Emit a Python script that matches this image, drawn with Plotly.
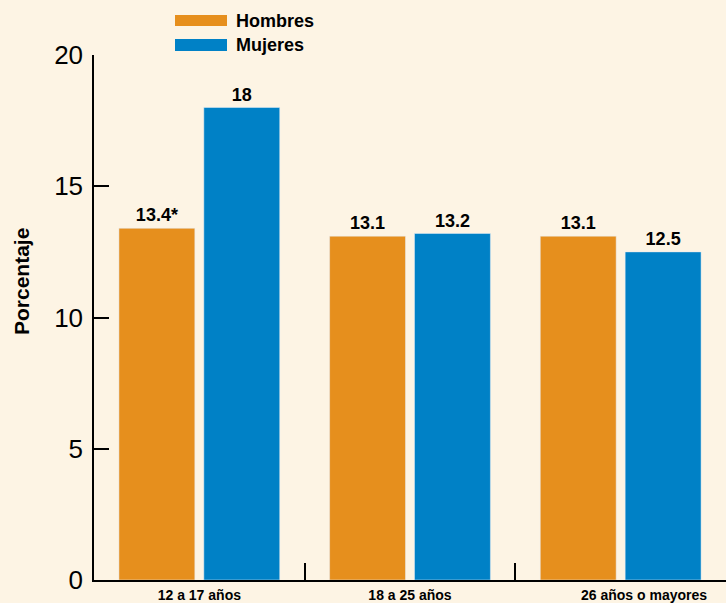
import plotly.graph_objects as go

categories = ["12 a 17 años", "18 a 25 años", "26 años o mayores"]
tick_labels = ["12 a 17 años", "18 a 25 años", "\u00a0" * 12 + "26 años o mayores"]
hombres = [13.4, 13.1, 13.1]
mujeres = [18, 13.2, 12.5]
hombres_text = ["13.4*", "13.1", "13.1"]
mujeres_text = ["18", "13.2", "12.5"]
y_ticks = [0, 5, 10, 15, 20]

ORANGE = "#E68F1D"
BLUE = "#0081C6"
BG = "#FDF4E4"
FONT = "Liberation Sans, Arial, sans-serif"

fig = go.Figure()
fig.add_trace(go.Bar(x=categories, y=hombres, name="Hombres", marker_color=ORANGE,
                     text=hombres_text, textposition="outside", cliponaxis=False,
                     textfont=dict(size=18, color="black", family=FONT, weight="bold")))
fig.add_trace(go.Bar(x=categories, y=mujeres, name="Mujeres", marker_color=BLUE,
                     text=mujeres_text, textposition="outside", cliponaxis=False,
                     textfont=dict(size=18, color="black", family=FONT, weight="bold")))

L, R, T, B = 94, 0, 55, 23
W, H = 726, 603
pw, ph = W - L - R, H - T - B

def px(x):
    return (x - L) / pw

def py(y):
    return (H - B - y) / ph

shapes = [
    dict(type="rect", xref="paper", yref="paper", x0=px(175), x1=px(227), y0=py(26), y1=py(15),
         fillcolor=ORANGE, line_width=0),
    dict(type="rect", xref="paper", yref="paper", x0=px(175), x1=px(227), y0=py(51), y1=py(39),
         fillcolor=BLUE, line_width=0),
]
annotations = [
    dict(text="<b>Hombres</b>", xref="paper", yref="paper", x=px(234), y=py(21), xanchor="left",
         yanchor="middle", showarrow=False, font=dict(size=18, color="black", family=FONT)),
    dict(text="<b>Mujeres</b>", xref="paper", yref="paper", x=px(234), y=py(45), xanchor="left",
         yanchor="middle", showarrow=False, font=dict(size=18, color="black", family=FONT)),
    dict(text="<b>Porcentaje</b>", xref="paper", yref="paper", x=px(21), y=py(282), textangle=-90,
         xanchor="center", yanchor="middle", showarrow=False, font=dict(size=21, color="black", family=FONT)),
]

fig.update_layout(
    width=W, height=H,
    margin=dict(l=L, r=R, t=T, b=B, pad=0, autoexpand=False),
    paper_bgcolor=BG, plot_bgcolor=BG,
    barmode="group", bargap=0.194, bargroupgap=0.106,
    showlegend=False,
    shapes=shapes, annotations=annotations,
    font=dict(family=FONT, color="black"),
    xaxis=dict(
        type="category", range=[-0.5, 2.5], tickmode="array", tickvals=categories, ticktext=tick_labels,
        tickson="boundaries", ticks="inside", ticklen=17, tickwidth=1.5, tickcolor="black",
        showline=True, linecolor="black", linewidth=2, showgrid=False, zeroline=False, automargin=False,
        tickfont=dict(size=14, color="black", family=FONT, weight="bold"), ticklabelstandoff=1,
    ),
    yaxis=dict(
        range=[0, 20], tickvals=y_ticks, ticks="inside", ticklen=15, tickwidth=1.5, tickcolor="black",
        showline=True, linecolor="black", linewidth=1.5, showgrid=False, zeroline=False, automargin=False,
        tickfont=dict(size=26, color="black", family=FONT), ticklabelstandoff=4,
    ),
)

fig.write_html("out.html")
